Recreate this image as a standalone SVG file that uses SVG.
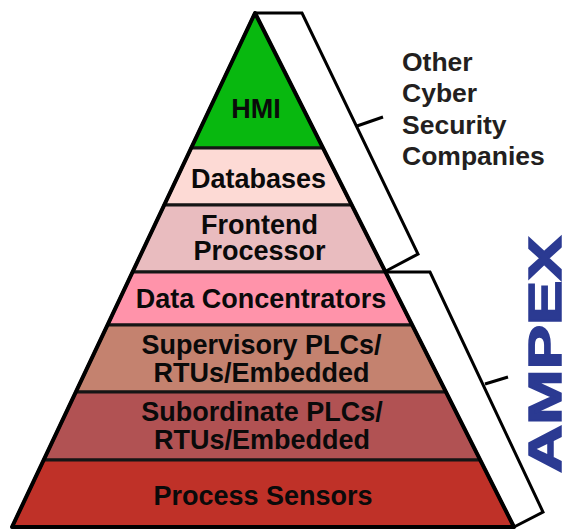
<svg xmlns="http://www.w3.org/2000/svg" width="565" height="529" viewBox="0 0 565 529">
<style>
.band{stroke:#151515;stroke-width:3;stroke-linejoin:round}
.lbl{font-family:"Liberation Sans",Arial,sans-serif;font-weight:bold;font-size:27px;fill:#0a0a0a;text-anchor:middle}
.side{font-family:"Liberation Sans",Arial,sans-serif;font-weight:bold;font-size:26.5px;fill:#231f20}
.br{fill:none;stroke:#000;stroke-width:3;stroke-linejoin:miter}
</style>
<rect width="565" height="529" fill="#fff"/>
<g id="hmi"><polygon class="band" points="255,13 323,148 191.2,148" fill="#08b80f"/><text class="lbl" x="256" y="118">HMI</text></g>
<g id="databases"><polygon class="band" points="191.2,148 323,148 351.7,205 164.2,205" fill="#fddad5"/><text class="lbl" x="258.5" y="188">Databases</text></g>
<g id="frontend"><polygon class="band" points="164.2,205 351.7,205 385.5,272 132.5,272" fill="#e9bcbf"/><text class="lbl" x="259.5" y="233.5">Frontend</text><text class="lbl" x="259.5" y="260">Processor</text></g>
<g id="dataconc"><polygon class="band" points="132.5,272 385.5,272 412.2,325 107.5,325" fill="#ff93aa"/><text class="lbl" x="261" y="307.5">Data Concentrators</text></g>
<g id="supervisory"><polygon class="band" points="107.5,325 412.2,325 446,392 75.8,392" fill="#c4826f"/><text class="lbl" x="261.5" y="353.5">Supervisory PLCs/</text><text class="lbl" x="261.5" y="381.5">RTUs/Embedded</text></g>
<g id="subordinate"><polygon class="band" points="75.8,392 446,392 480.2,460 43.7,460" fill="#b15253"/><text class="lbl" x="262" y="421">Subordinate PLCs/</text><text class="lbl" x="262" y="448.5">RTUs/Embedded</text></g>
<g id="sensors"><polygon class="band" points="43.7,460 480.2,460 514,527 12,527" fill="#bf3128"/><text class="lbl" x="263" y="505">Process Sensors</text></g>
<polygon points="255,13 514,527 12,527" fill="none" stroke="#000" stroke-width="4" stroke-linejoin="round"/>
<g id="connectors">
<polyline class="br" points="255,13 302,13 418,254 386,271"/>
<line class="br" x1="357" y1="126" x2="383" y2="117"/>
<polyline class="br" points="387,272 430,272 543,512 514,527"/>
<line class="br" x1="485" y1="384" x2="508" y2="377"/>
</g>
<g id="other">
<text class="side" x="402" y="70.5">Other</text>
<text class="side" x="402" y="102">Cyber</text>
<text class="side" x="402" y="133.5">Security</text>
<text class="side" x="402" y="165">Companies</text>
</g>
<g id="ampex"><text transform="translate(561,473) rotate(-90)" x="0" y="0" font-family="'Liberation Sans',Arial,sans-serif" font-weight="bold" font-size="46" fill="#2b3a92" stroke="#2b3a92" stroke-width="1.5" textLength="237" lengthAdjust="spacingAndGlyphs">AMPEX</text></g>
</svg>
